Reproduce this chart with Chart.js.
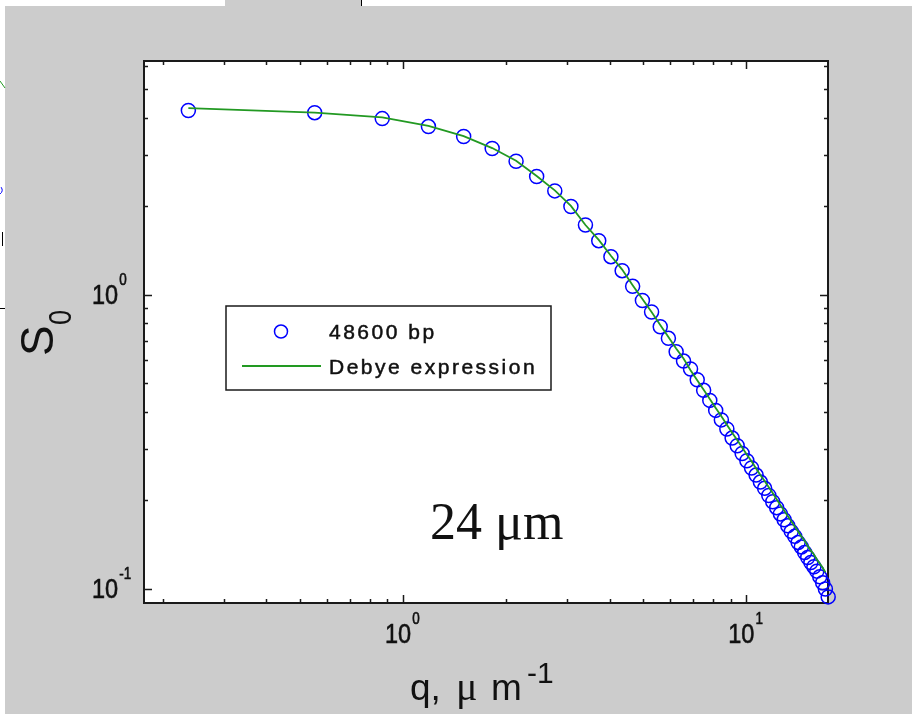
<!DOCTYPE html>
<html>
<head>
<meta charset="utf-8">
<title>S0 versus q</title>
<script src="https://cdn.jsdelivr.net/npm/chart.js@4.4.1/dist/chart.umd.min.js"></script>
<style>
  body { margin: 0; background: #fff; }
  canvas { display: block; }
</style>
</head>
<body>
<canvas id="chart" width="912" height="714"></canvas>
<script>
// measured S0 for the 48600 bp chain
const qData = [0.237, 0.553, 0.870, 1.186, 1.502, 1.819, 2.135, 2.451, 2.768, 3.084,
               3.400, 3.717, 4.033, 4.349, 4.666, 4.982, 5.298, 5.615, 5.931, 6.247,
               6.564, 6.880, 7.196, 7.513, 7.829, 8.145, 8.461, 8.778, 9.094, 9.410,
               9.727, 10.04, 10.36, 10.68, 10.99, 11.31, 11.63, 11.94, 12.26, 12.57,
               12.89, 13.21, 13.52, 13.84, 14.16, 14.47, 14.79, 15.10, 15.42, 15.74,
               16.05, 16.37, 16.69, 17.00, 17.32];
const sData = [4.24, 4.17, 3.98, 3.74, 3.46, 3.15, 2.85, 2.53, 2.26, 2.00,
               1.73, 1.53, 1.35, 1.21, 1.07, 0.958, 0.875, 0.780, 0.712, 0.641,
               0.596, 0.560, 0.515, 0.474, 0.438, 0.405, 0.376, 0.350, 0.326, 0.307,
               0.289, 0.273, 0.258, 0.244, 0.231, 0.220, 0.208, 0.198, 0.189, 0.180,
               0.172, 0.164, 0.157, 0.151, 0.144, 0.139, 0.133, 0.128, 0.123, 0.119,
               0.115, 0.110, 0.105, 0.100, 0.094];

// Debye expression curve
const qFit = qData.slice(0, 54);
const sFit = [4.32, 4.17, 4.02, 3.76, 3.47, 3.16, 2.86, 2.54, 2.27, 2.01,
              1.73, 1.54, 1.36, 1.22, 1.08, 0.969, 0.875, 0.791, 0.720, 0.658,
              0.608, 0.555, 0.513, 0.476, 0.443, 0.413, 0.387, 0.362, 0.340, 0.321,
              0.303, 0.286, 0.272, 0.257, 0.244, 0.233, 0.222, 0.212, 0.202, 0.193,
              0.185, 0.177, 0.170, 0.163, 0.157, 0.151, 0.146, 0.140, 0.135, 0.131,
              0.126, 0.122, 0.118, 0.114];

const xMajor = [1, 10];
const xMinor = [0.2, 0.3, 0.4, 0.5, 0.6, 0.7, 0.8, 0.9, 2, 3, 4, 5, 6, 7, 8, 9];
const yMajor = [0.1, 1];
const yMinor = [0.2, 0.3, 0.4, 0.5, 0.6, 0.7, 0.8, 0.9, 2, 3, 4, 5, 6];
const xTickLabels = ['10^0', '10^1'];
const yTickLabels = ['10^-1', '10^0'];

const legendItems = ['48600 bp', 'Debye expression'];

const GRAY = '#cccccc';
const BLUE = '#0000ff';
const GREEN = '#229922';
const INK = '#111111';

// text drawn with a thin outline so it reads as heavy as the screen font
function heavy(ctx, text, x, y) {
  ctx.fillText(text, x, y);
  ctx.strokeText(text, x, y);
}

function squeezed(ctx, text, x, y, sx) {
  ctx.save();
  ctx.translate(x, y);
  ctx.scale(sx, 1);
  heavy(ctx, text, 0, 0);
  ctx.restore();
  return ctx.measureText(text).width * sx;
}

function spaced(ctx, text, x, y, gap) {
  for (const ch of text) {
    heavy(ctx, ch, x, y);
    x += ctx.measureText(ch).width + gap;
  }
}

// "10^e" style label; (x, y) is left end of the base on its baseline
function powLabel(ctx, label, x, y) {
  const [base, exp] = label.split('^');
  ctx.font = '28px "Liberation Sans", Arial, sans-serif';
  const w = squeezed(ctx, base, x, y, 0.84);
  ctx.font = '16px "Liberation Sans", Arial, sans-serif';
  squeezed(ctx, exp, x + w + 1, y - 19, 0.84);
}

const figure = {
  id: 'figure',
  beforeDraw(chart) {
    const ctx = chart.ctx;
    const a = chart.chartArea;
    ctx.save();
    ctx.fillStyle = '#fff';
    ctx.fillRect(0, 0, chart.width, chart.height);
    ctx.fillStyle = GRAY;
    ctx.fillRect(5, 6, chart.width - 5, chart.height - 6);
    ctx.fillRect(225, 0, 137, 6);
    ctx.fillStyle = '#000';
    ctx.fillRect(361, 0, 1, 6);

    // edge of the neighbouring panel
    ctx.strokeStyle = GREEN;
    ctx.lineWidth = 1;
    ctx.beginPath(); ctx.moveTo(0, 81); ctx.lineTo(5, 88); ctx.stroke();
    ctx.strokeStyle = BLUE;
    ctx.beginPath(); ctx.arc(-3, 190, 5, -0.6, 0.9); ctx.stroke();
    ctx.strokeStyle = '#000';
    ctx.beginPath(); ctx.moveTo(2.5, 232); ctx.lineTo(2.5, 246); ctx.stroke();
    ctx.beginPath(); ctx.moveTo(0, 308.5); ctx.lineTo(5, 308.5); ctx.stroke();

    ctx.fillStyle = '#fff';
    ctx.fillRect(a.left, a.top, a.right - a.left, a.bottom - a.top);
    ctx.restore();
  },
  beforeDatasetsDraw(chart) {
    const ctx = chart.ctx;
    const a = chart.chartArea;
    const xs = chart.scales.x, ys = chart.scales.y;
    ctx.save();
    ctx.strokeStyle = '#1a1a1a';
    ctx.lineWidth = 1.5;
    ctx.beginPath();
    const tick = (v, len, horiz) => {
      if (horiz) {
        const p = Math.round(xs.getPixelForValue(v)) + 0.5;
        ctx.moveTo(p, a.bottom); ctx.lineTo(p, a.bottom - len);
        ctx.moveTo(p, a.top); ctx.lineTo(p, a.top + len);
      } else {
        const p = Math.round(ys.getPixelForValue(v)) + 0.5;
        ctx.moveTo(a.left, p); ctx.lineTo(a.left + len, p);
        ctx.moveTo(a.right, p); ctx.lineTo(a.right - len, p);
      }
    };
    xMinor.forEach(v => tick(v, 4, true));
    xMajor.forEach(v => tick(v, 8, true));
    yMinor.forEach(v => tick(v, 4, false));
    yMajor.forEach(v => tick(v, 8, false));
    ctx.stroke();
    ctx.lineWidth = 2;
    ctx.strokeRect(a.left, a.top, a.right - a.left, a.bottom - a.top);
    ctx.restore();
  },
  afterDatasetsDraw(chart) {
    const ctx = chart.ctx;
    const a = chart.chartArea;
    const xs = chart.scales.x, ys = chart.scales.y;
    ctx.save();
    ctx.fillStyle = INK;
    ctx.strokeStyle = INK;
    ctx.lineWidth = 0.6;
    ctx.textBaseline = 'alphabetic';
    ctx.textAlign = 'left';

    // tick labels
    xMajor.forEach((v, i) => {
      powLabel(ctx, xTickLabels[i], xs.getPixelForValue(v) - 18, a.bottom + 40);
    });
    yMajor.forEach((v, i) => {
      powLabel(ctx, yTickLabels[i], a.left - 52, ys.getPixelForValue(v) + 9);
    });

    // axis titles
    ctx.lineWidth = 0;
    ctx.save();
    ctx.translate(53, 354);
    ctx.rotate(-Math.PI / 2);
    ctx.font = '46px "Liberation Sans", Arial, sans-serif';
    ctx.fillText('S', -2, 0);
    ctx.font = '32px "Liberation Sans", Arial, sans-serif';
    ctx.save();
    ctx.translate(29, 18);
    ctx.scale(0.85, 1);
    ctx.fillText('0', 0, 0);
    ctx.restore();
    ctx.restore();

    ctx.font = '37px "Liberation Sans", Arial, sans-serif';
    ctx.fillText('q,', 410, 700);
    ctx.font = '40px "Liberation Serif", "Times New Roman", serif';
    ctx.fillText('\u03bc', 456, 700);
    ctx.font = '37px "Liberation Sans", Arial, sans-serif';
    ctx.fillText('m', 491, 700);
    ctx.font = '30px "Liberation Sans", Arial, sans-serif';
    ctx.fillText('-1', 527, 683);

    // annotation
    ctx.font = '52px "Liberation Serif", "Times New Roman", serif';
    ctx.fillText('24 \u03bcm', 430, 539);

    // legend
    ctx.fillStyle = '#fff';
    ctx.fillRect(226, 306, 325, 84);
    ctx.strokeStyle = '#1a1a1a';
    ctx.lineWidth = 1.5;
    ctx.strokeRect(226, 306, 325, 84);
    ctx.strokeStyle = BLUE;
    ctx.lineWidth = 1.5;
    ctx.beginPath(); ctx.arc(281, 331.5, 6.5, 0, Math.PI * 2); ctx.stroke();
    ctx.strokeStyle = GREEN;
    ctx.lineWidth = 1.8;
    ctx.beginPath(); ctx.moveTo(242, 366); ctx.lineTo(321, 366); ctx.stroke();
    ctx.fillStyle = INK;
    ctx.strokeStyle = INK;
    ctx.lineWidth = 0.5;
    ctx.font = '21px "Liberation Sans", Arial, sans-serif';
    spaced(ctx, legendItems[0], 329, 339, 2.5);
    spaced(ctx, legendItems[1], 329, 374, 2.5);
    ctx.restore();
  }
};

new Chart(document.getElementById('chart'), {
  type: 'scatter',
  data: {
    datasets: [
      {
        label: legendItems[1],
        data: qFit.map((q, i) => ({ x: q, y: sFit[i] })),
        showLine: true,
        borderColor: GREEN,
        borderWidth: 1.8,
        pointRadius: 0,
        order: 0
      },
      {
        label: legendItems[0],
        data: qData.map((q, i) => ({ x: q, y: sData[i] })),
        borderColor: BLUE,
        backgroundColor: 'rgba(0,0,0,0)',
        pointStyle: 'circle',
        pointRadius: 7,
        borderWidth: 1.5,
        clip: false,
        order: 1
      }
    ]
  },
  options: {
    responsive: false,
    animation: false,
    devicePixelRatio: 1,
    events: [],
    layout: { padding: { left: 144, top: 61, right: 84, bottom: 111 }, autoPadding: false },
    scales: {
      x: { type: 'logarithmic', min: 0.176, max: 17.3, display: false },
      y: { type: 'logarithmic', min: 0.0896, max: 6.25, display: false }
    },
    plugins: {
      legend: { display: false },
      tooltip: { enabled: false }
    }
  },
  plugins: [figure]
});
</script>
</body>
</html>
